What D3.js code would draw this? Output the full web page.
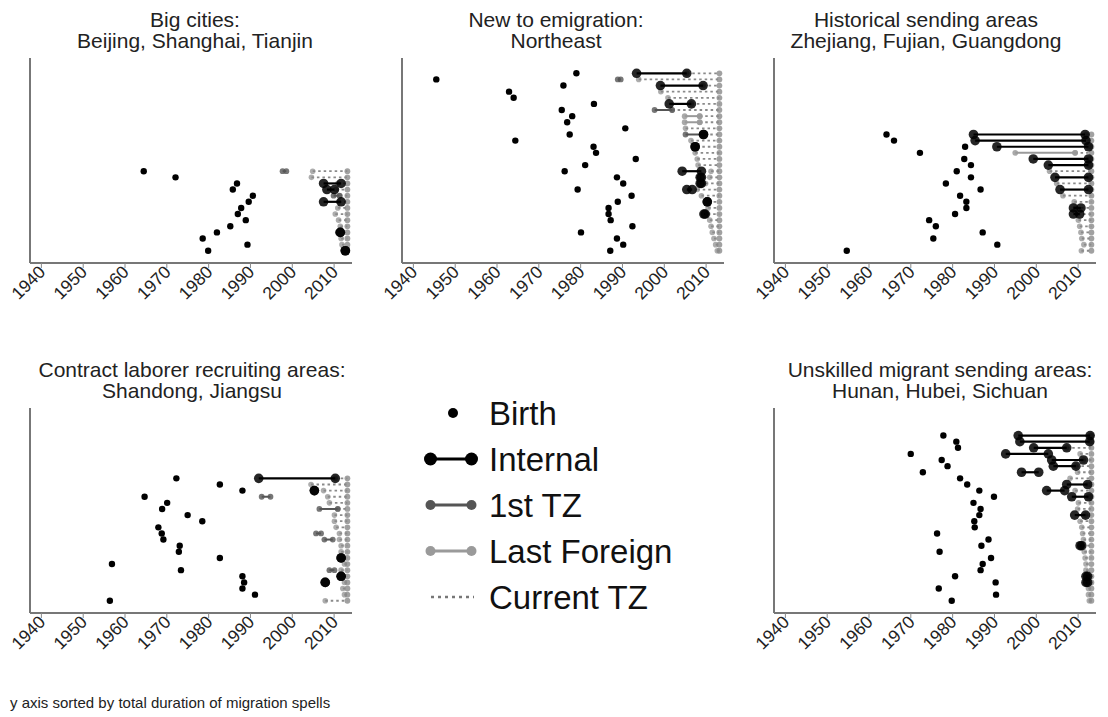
<!DOCTYPE html>
<html><head><meta charset="utf-8">
<script src="https://cdn.jsdelivr.net/npm/d3@7"></script>
<style>
html,body{margin:0;padding:0;background:#fff;}
svg{display:block;font-family:"Liberation Sans",Arial,sans-serif;}
</style></head>
<body><svg id="c" width="1108" height="717"></svg>
<script>
// ---------- data ----------
const tickYears = [1940, 1950, 1960, 1970, 1980, 1990, 2000, 2010];
const surveyYear = 2013.3;

// Big cities
const bigTitle = ["Big cities:", "Beijing, Shanghai, Tianjin"];
const bigBirth = [1964.6, 1972.2, 1986.9, 1985.9, 1990.7, 1989.7, 1987.9, 1987.1, 1989.0, 1985.3, 1982.1, 1978.7, 1989.4, 1980.0];
const bigInternal = [[2, 2007.6, 2011.8], [3, 2008.4, 2010.2], [5, 2007.6, 2011.8], [10, 2011.6, 2011.6], [13, 2012.8, 2012.8]];
const bigTz1 = [[0, 1997.8, 1998.7], [4, 2010.0, 2011.4]];
const bigLast = [];
const bigCurrent = [2005.0, 2004.7, 2011.0, 2010.6, 2011.5, 2011.2, 2011.0, 2010.4, 2011.2, 2011.6, 2011.0, 2011.8, 2012.0, 2012.4];

// Northeast
const neTitle = ["New to emigration:", "Northeast"];
const neBirth = [1979.1, 1945.6, 1976.0, 1963.0, 1964.1, 1983.3, 1975.6, 1978.1, 1976.9, 1990.8, 1977.5, 1964.5, 1983.2, 1983.8, 1993.3, 1981.2, 1976.3, 1988.8, 1990.3, 1979.4, 1992.3, 1989.0, 1986.8, 1986.8, 1987.3, 1992.5, 1980.2, 1988.8, 1990.3, 1987.2];
const neInternal = [[0, 1993.5, 2005.5], [2, 1999.2, 2009.4], [5, 2001.3, 2006.6], [10, 2009.5, 2009.5], [12, 2007.5, 2007.5], [16, 2004.4, 2009.0], [17, 2008.7, 2009.0], [18, 2008.7, 2009.0], [19, 2005.5, 2006.8], [21, 2010.4, 2010.4], [23, 2009.6, 2009.9]];
const neTz1 = [[1, 1989.0, 1989.7], [6, 1997.8, 2002.0], [10, 2005.2, 2009.4]];
const neLast = [[7, 2005.0, 2008.6], [8, 2005.0, 2008.6]];
const neCurrent = [2005.5, 1994.0, 2009.4, 1999.3, 2001.0, 2006.6, 2002.0, 2008.6, 2008.6, 2005.2, 2009.8, 2006.5, 2007.9, 2007.5, 2008.0, 2008.2, 2011.3, 2011.0, 2010.0, 2008.0, 2009.0, 2010.6, 2010.6, 2010.5, 2011.0, 2011.3, 2011.6, 2012.0, 2012.4, 2012.8];

// Historical sending areas
const histTitle = ["Historical sending areas", "Zhejiang, Fujian, Guangdong"];
const histBirth = [1964.3, 1966.1, 1983.1, 1972.3, 1982.9, 1984.5, 1981.1, 1984.5, 1978.5, 1986.8, 1981.9, 1983.4, 1983.4, 1980.7, 1974.5, 1976.1, 1987.3, 1975.5, 1990.8, 1954.8];
const histInternal = [[0, 1985.1, 2011.8], [1, 1985.5, 2012.0], [2, 1990.7, 2012.6], [4, 1999.4, 2012.6], [5, 2003.0, 2012.6], [7, 2004.6, 2012.6], [9, 2005.8, 2012.6], [12, 2009.0, 2010.8], [13, 2009.0, 2010.5]];
const histTz1 = [];
const histLast = [[3, 1995.1, 2009.4]];
const histCurrent = [2012.0, 2012.3, 2012.6, 2009.4, 2012.6, 2012.6, 2003.3, 2012.6, 2005.0, 2012.6, 2006.5, 2009.2, 2009.5, 2010.0, 2010.2, 2010.5, 2010.8, 2011.0, 2011.5, 2010.9];

// Contract laborer recruiting areas
const conTitle = ["Contract laborer recruiting areas:", "Shandong, Jiangsu"];
const conBirth = [1972.4, 1982.8, 1988.2, 1964.8, 1970.2, 1969.0, 1975.1, 1978.6, 1968.1, 1968.9, 1969.3, 1973.2, 1973.0, 1982.8, 1957.0, 1973.5, 1988.2, 1988.6, 1988.2, 1991.2, 1956.5];
const conInternal = [[0, 1992.1, 2010.4], [2, 2005.4, 2005.4], [13, 2011.8, 2011.8], [16, 2011.8, 2011.8], [17, 2008.0, 2008.0]];
const conTz1 = [[3, 1992.8, 1994.9], [5, 2006.6, 2011.0], [9, 2005.8, 2007.0], [10, 2007.8, 2009.8], [15, 2009.0, 2010.2]];
const conLast = [];
const conCurrent = [2010.4, 2004.6, 2007.6, 2008.6, 2009.0, 2011.0, 2010.2, 2010.2, 2010.6, 2011.4, 2011.4, 2011.8, 2011.8, 2011.8, 2012.6, 2011.8, 2011.8, 2012.6, 2012.2, 2012.6, 2008.0];

// Unskilled migrant sending areas
const unTitle = ["Unskilled migrant sending areas:", "Hunan, Hubei, Sichuan"];
const unBirth = [1977.9, 1981.0, 1981.4, 1970.1, 1977.5, 1978.9, 1973.0, 1981.9, 1983.6, 1986.5, 1990.0, 1985.1, 1986.8, 1986.5, 1985.3, 1985.4, 1976.4, 1988.7, 1987.0, 1977.0, 1989.3, 1987.3, 1986.8, 1980.7, 1990.4, 1976.8, 1990.5, 1979.9];
const unInternal = [[0, 1995.8, 2013.0], [1, 1996.2, 2012.9], [2, 1999.5, 2007.4], [3, 1992.8, 2003.0], [4, 2003.8, 2011.4], [5, 2004.2, 2009.6], [6, 1996.6, 2000.7], [8, 2007.4, 2012.4], [9, 2002.6, 2006.9], [10, 2008.6, 2012.6], [13, 2009.3, 2011.9], [18, 2010.6, 2011.0], [23, 2012.0, 2012.4], [24, 2012.0, 2012.4]];
const unTz1 = [];
const unLast = [];
const unCurrent = [2013.0, 2012.9, 2007.4, 2010.6, 2011.4, 2009.6, 2010.0, 2008.2, 2012.4, 2009.4, 2012.6, 2010.2, 2010.0, 2011.9, 2010.6, 2011.0, 2011.2, 2011.4, 2011.0, 2011.6, 2011.8, 2012.0, 2012.0, 2012.4, 2012.4, 2012.6, 2012.6, 2012.8];

const legendLabels = ["Birth", "Internal", "1st TZ", "Last Foreign", "Current TZ"];
const footnote = "y axis sorted by total duration of migration spells";

// ---------- layout ----------
const panels = [
  {title: bigTitle, birth: bigBirth, internal: bigInternal, tz1: bigTz1, last: bigLast, current: bigCurrent, ax: 30, base: 263, cx: 195, ty: 27},
  {title: neTitle, birth: neBirth, internal: neInternal, tz1: neTz1, last: neLast, current: neCurrent, ax: 402, base: 263, cx: 556, ty: 27},
  {title: histTitle, birth: histBirth, internal: histInternal, tz1: histTz1, last: histLast, current: histCurrent, ax: 774, base: 263, cx: 926, ty: 27},
  {title: conTitle, birth: conBirth, internal: conInternal, tz1: conTz1, last: conLast, current: conCurrent, ax: 30, base: 613, cx: 192, ty: 377},
  {title: unTitle, birth: unBirth, internal: unInternal, tz1: unTz1, last: unLast, current: unCurrent, ax: 774, base: 613, cx: 940, ty: 377}
];

const svg = d3.select("#c");
const C = {internal: "#000", tz1: "#555", last: "#9a9a9a", cur: "#8a8a8a"};

panels.forEach(p => {
  const N = p.birth.length;
  const x = d3.scaleLinear().domain([1937.4, 2014.4]).range([p.ax, p.ax + 322]);
  const y = d3.scaleLinear().domain([-2, 31.5]).range([p.base, p.base - 205]);
  const ry = i => y(N - 1 - i);
  const g = svg.append("g");

  // title
  const t = g.append("text").attr("text-anchor", "middle").attr("font-size", 21).attr("fill", "#222");
  t.append("tspan").attr("x", p.cx).attr("y", p.ty).text(p.title[0]);
  t.append("tspan").attr("x", p.cx).attr("y", p.ty + 21).text(p.title[1]);

  // axes
  const xa = d3.axisBottom(x).tickValues(tickYears).tickFormat(d3.format("d")).tickSize(5).tickSizeOuter(0);
  const gx = g.append("g").attr("transform", `translate(0,${p.base})`).call(xa);
  gx.select(".domain").attr("stroke", "#777").attr("stroke-width", 2).attr("d", `M${p.ax},0H${p.ax + 322}`);
  gx.selectAll(".tick line").attr("stroke", "#888").attr("stroke-width", 1);
  gx.selectAll(".tick text").attr("font-size", 17.5).attr("fill", "#222")
    .attr("font-family", "Liberation Sans, Arial, sans-serif")
    .attr("text-anchor", "end").attr("dy", null).attr("y", 0)
    .attr("transform", "translate(5,10) rotate(-45)");
  g.append("line").attr("x1", p.ax).attr("x2", p.ax).attr("y1", p.base).attr("y2", p.base - 205)
    .attr("stroke", "#777").attr("stroke-width", 2);

  // current TZ (dotted)
  const cur = p.current.map((s, i) => ({i, s})).filter(d => d.s != null);
  g.selectAll(".curl").data(cur).join("line")
    .attr("x1", d => x(d.s)).attr("x2", x(surveyYear)).attr("y1", d => ry(d.i)).attr("y2", d => ry(d.i))
    .attr("stroke", C.cur).attr("stroke-width", 1.8).attr("stroke-dasharray", "2.5,3");
  g.selectAll(".curs").data(cur).join("circle")
    .attr("cx", d => x(d.s)).attr("cy", d => ry(d.i)).attr("r", 2.8)
    .attr("fill", C.cur).attr("fill-opacity", 0.7);
  g.selectAll(".cure").data(cur).join("circle")
    .attr("cx", x(surveyYear)).attr("cy", d => ry(d.i)).attr("r", 2.9)
    .attr("fill", C.cur).attr("fill-opacity", 0.8);

  // spells
  function spells(data, color, w, r, op) {
    const gg = g.append("g");
    gg.selectAll("line").data(data).join("line")
      .attr("x1", d => x(d[1])).attr("x2", d => x(d[2])).attr("y1", d => ry(d[0])).attr("y2", d => ry(d[0]))
      .attr("stroke", color).attr("stroke-width", w);
    const pts = data.flatMap(d => [[d[0], d[1]], [d[0], d[2]]]);
    gg.selectAll("circle").data(pts).join("circle")
      .attr("cx", d => x(d[1])).attr("cy", d => ry(d[0])).attr("r", r)
      .attr("fill", color).attr("fill-opacity", op);
  }
  spells(p.last, C.last, 2, 2.9, 0.85);
  spells(p.tz1, C.tz1, 2, 2.9, 0.8);
  spells(p.internal, C.internal, 2.2, 4.8, 0.85);

  // births
  g.selectAll(".birth").data(p.birth).join("circle")
    .attr("cx", d => x(d)).attr("cy", (d, i) => ry(i)).attr("r", 3.2).attr("fill", "#000");
});

// ---------- legend ----------
const lg = svg.append("g");
const ly = d3.scaleBand().domain(legendLabels).range([392, 622]);
const lx1 = 430.5, lx2 = 471.5;
legendLabels.forEach((lab, k) => {
  const cy = ly(lab) + ly.bandwidth() / 2 - 2;
  if (k === 0) {
    lg.append("circle").attr("cx", 453).attr("cy", cy).attr("r", 5).attr("fill", "#000");
  } else if (k < 4) {
    const col = [null, "#000", "#555", "#9a9a9a"][k];
    const r = k === 1 ? 6.5 : 5;
    lg.append("line").attr("x1", lx1).attr("x2", lx2).attr("y1", cy).attr("y2", cy).attr("stroke", col).attr("stroke-width", 3);
    [lx1, lx2].forEach(xx => lg.append("circle").attr("cx", xx).attr("cy", cy).attr("r", r).attr("fill", col));
  } else {
    lg.append("line").attr("x1", 431).attr("x2", 474).attr("y1", cy).attr("y2", cy)
      .attr("stroke", "#777").attr("stroke-width", 2.5).attr("stroke-dasharray", "3,4");
  }
  lg.append("text").attr("x", 489).attr("y", cy + 12).attr("font-size", 33).attr("fill", "#111").text(lab);
});

svg.append("text").attr("x", 10).attr("y", 708).attr("font-size", 15).attr("fill", "#222").text(footnote);
</script>
</body></html>
